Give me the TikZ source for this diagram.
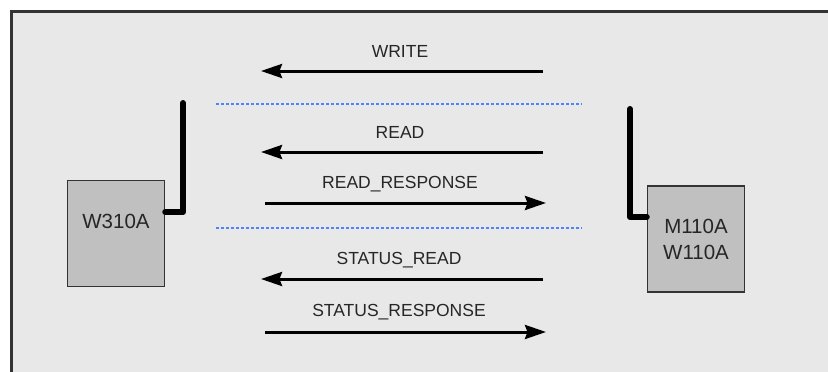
\documentclass[tikz,border=0pt]{standalone}
\usepackage{fontspec}
\setmainfont{Liberation Sans}
\usetikzlibrary{arrows.meta,positioning}
\definecolor{panelgray}{HTML}{E8E8E8}
\definecolor{boxgray}{HTML}{C0C0C0}
\definecolor{linkblue}{HTML}{4F82FF}
\tikzset{
  >={Stealth[length=21pt,width=14pt,inset=2.5pt]},
  radio/.style={draw=black!80,line width=1.5pt,fill=boxgray,minimum width=97pt,minimum height=106pt,inner sep=0pt,align=center,font=\fontsize{20.5}{26}\selectfont,text=black!85},
  devtxt/.style={font=\fontsize{20.5}{26}\selectfont,text=black!85,inner sep=0pt},
  aerial/.style={line width=6pt,line cap=round,line join=round},
  msg/.style={->,line width=3pt},
  lbl/.style={font=\fontsize{17.5}{21}\selectfont,text=black!85,inner sep=0pt},
  sep/.style={draw=linkblue,line width=2pt,dash pattern=on 3pt off 2pt}
}
\begin{document}
\begin{tikzpicture}[x=1pt,y=-1pt]
\useasboundingbox (0,0) rectangle (828,372);
% panel
\fill[panelgray] (11,11) rectangle (828,372);
\draw[line width=3pt,draw=black!80] (11,372) -- (11,11) -- (828,11);
% devices
\node[radio](w310)at(116,233.5){};
\node[devtxt](w310txt)at(116,221){W310A};
\node[radio](m110)at(696,239){M110A\\W110A};
\coordinate(ltip)at(183,103);\coordinate(lfoot)at(183,212);
\coordinate(rtip)at(630,109);\coordinate(rfoot)at(630,217);
\draw[aerial](ltip)--(lfoot)--(lfoot-|w310.east);
\draw[aerial](rtip)--(rfoot)--(rfoot-|m110.west);
% separators
\coordinate(sepa1)at(216,104);\coordinate(sepa2)at(582,104);
\coordinate(sepb1)at(216,228);\coordinate(sepb2)at(582,228);
\draw[sep](sepa1)--(sepa2);
\draw[sep](sepb1)--(sepb2);
% messages
\coordinate(write1)at(543,71);\coordinate(write2)at(261,71);
\coordinate(read1)at(543,152);\coordinate(read2)at(261,152);
\coordinate(rresp1)at(265,203);\coordinate(rresp2)at(546,203);
\coordinate(sread1)at(543,279);\coordinate(sread2)at(261,279);
\coordinate(sresp1)at(265,332);\coordinate(sresp2)at(546,332);
\draw[msg](write1)--(write2);
\draw[msg](read1)--(read2);
\draw[msg](rresp1)--(rresp2);
\draw[msg](sread1)--(sread2);
\draw[msg](sresp1)--(sresp2);
\node[lbl](writelbl)at(400,51){WRITE};
\node[lbl](readlbl)at(400,132){READ};
\node[lbl](rresplbl)at(400,184){READ\_RESPONSE};
\node[lbl](sreadlbl)at(399,260){STATUS\_READ};
\node[lbl](sresplbl)at(399,312){STATUS\_RESPONSE};
\end{tikzpicture}
\end{document}
